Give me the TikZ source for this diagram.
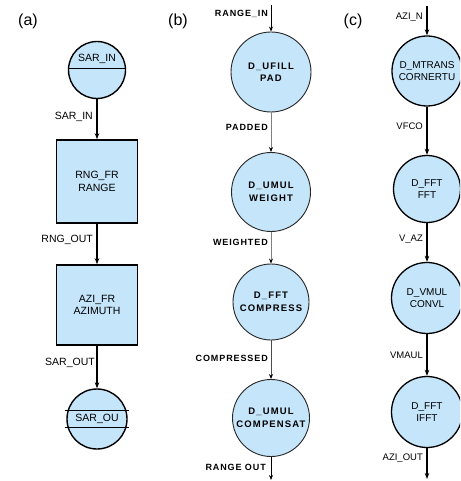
\documentclass[tikz,border=0pt]{standalone}
\usepackage{fontspec}
\setmainfont{Liberation Sans}
\usetikzlibrary{arrows.meta}
\definecolor{lb}{RGB}{197,229,250}
\begin{document}
\begin{tikzpicture}[x=1pt,y=-1pt,
  panel/.style={font=\fontsize{16}{16}\selectfont},
  proca/.style={circle,draw,fill=lb,line width=1.4pt,inner sep=0pt},
  boxa/.style={rectangle,draw,fill=lb,line width=1.6pt,inner sep=0pt,align=center,font=\fontsize{10.5}{12.5}\selectfont},
  procb/.style={circle,draw=black!85,fill=lb,line width=0.9pt,inner sep=0pt,align=center,font=\bfseries\fontsize{9.5}{12.5}\selectfont\addfontfeature{LetterSpace=12}},
  procc/.style={circle,draw,fill=lb,line width=1.3pt,inner sep=0pt,align=center,font=\fontsize{10}{12.5}\selectfont},
  flowa/.style={-{Stealth[length=6pt,width=4.5pt]},line width=1.5pt},
  flowb/.style={-{Stealth[length=5pt,width=4pt,fill=black,color=black]},line width=0.9pt},
  labela/.style={anchor=east,inner sep=0pt,font=\fontsize{10.5}{12}\selectfont},
  labelb/.style={anchor=east,inner sep=0pt,font=\bfseries\fontsize{9}{10}\selectfont\addfontfeature{LetterSpace=10}},
  labelc/.style={anchor=east,inner sep=0pt,font=\fontsize{9.5}{11}\selectfont}]
\clip (0,0) rectangle (460,481);
\fill[white] (0,0) rectangle (460,481);
% ---------- panel (a)
\node[panel] (pa) at (28,21) {(a)};
\node[proca,minimum size=57pt] (a1) at (97,70) {};
\draw[line width=0.8pt] (a1.west |- 0,68) -- (a1.east |- 0,68);
\node[font=\fontsize{10.5}{12}\selectfont] (a1t) at (97,59) {SAR\_IN};
\node[boxa,minimum width=81pt,minimum height=83pt] (a2) at (97,181.5) {RNG\_FR\\RANGE};
\node[boxa,minimum width=81pt,minimum height=80pt] (a3) at (97,305) {AZI\_FR\\AZIMUTH};
\node[proca,minimum size=60pt] (a4) at (97,419) {};
\draw[line width=0.8pt] ([xshift=-1pt]a4.west |- 0,410) -- ([xshift=1pt]a4.east |- 0,410);
\draw[line width=0.8pt] ([xshift=-1pt]a4.west |- 0,427) -- ([xshift=1pt]a4.east |- 0,427);
\node[font=\fontsize{10.5}{12}\selectfont] (a4t) at (97,418.5) {SAR\_OU};
\draw[flowa] (a1) -- (a2);
\draw[flowa] (a2) -- (a3);
\draw[flowa] (a3) -- (a4);
\node[labela] (la1) at (93,117) {SAR\_IN};
\node[labela] (la2) at (93,240) {RNG\_OUT};
\node[labela] (la3) at (95,363) {SAR\_OUT};
% ---------- panel (b)
\node[panel] (pb) at (178,21) {(b)};
\coordinate (b0) at (271,5);
\node[procb,minimum size=80pt] (b1) at (271,72) {D\_UFILL\\PAD};
\node[procb,minimum size=79pt] (b2) at (271,192) {D\_UMUL\\WEIGHT};
\node[procb,minimum size=76pt] (b3) at (271,302) {D\_FFT\\COMPRESS};
\node[procb,minimum size=77pt] (b4) at (271,418) {D\_UMUL\\COMPENSAT};
\coordinate (b5) at (271,480);
\draw[flowb,black] (b0) -- (b1);
\draw[flowb,black!50] (b1) -- (b2);
\draw[flowb,black!50] (b2) -- (b3);
\draw[flowb,black!70] (b3) -- (b4);
\draw[flowb,black] (b4) -- (b5);
\node[labelb] (lb0) at (268,14) {RANGE\_IN};
\node[labelb] (lb1) at (268,127) {PADDED};
\node[labelb] (lb2) at (268,242) {WEIGHTED};
\node[labelb] (lb3) at (268,358) {COMPRESSED};
\node[labelb] (lb4) at (266,467) {RANGE OUT};
% ---------- panel (c)
\node[panel] (pc) at (353,21) {(c)};
\coordinate (c0) at (427,6);
\node[procc,minimum size=70pt] (c1) at (427,71) {D\_MTRANS\\CORNERTU};
\node[procc,minimum size=67pt] (c2) at (427,189) {D\_FFT\\FFT};
\node[procc,minimum size=71pt] (c3) at (427,298) {D\_VMUL\\CONVL};
\node[procc,minimum size=71pt] (c4) at (427,412) {D\_FFT\\IFFT};
\coordinate (c5) at (427,479);
\draw[flowa,line width=1.3pt] (c0) -- (c1);
\draw[flowa,line width=1.3pt] (c1) -- (c2);
\draw[flowa,line width=1.3pt] (c2) -- (c3);
\draw[flowa,line width=1.3pt] (c3) -- (c4);
\draw[flowa,line width=1.3pt] (c4) -- (c5);
\node[labelc] (lc0) at (423,17) {AZI\_N};
\node[labelc] (lc1) at (423,126) {VFCO};
\node[labelc] (lc2) at (423,239) {V\_AZ};
\node[labelc] (lc3) at (423,355) {VMAUL};
\node[labelc] (lc4) at (423,458) {AZI\_OUT};
\end{tikzpicture}
\end{document}
